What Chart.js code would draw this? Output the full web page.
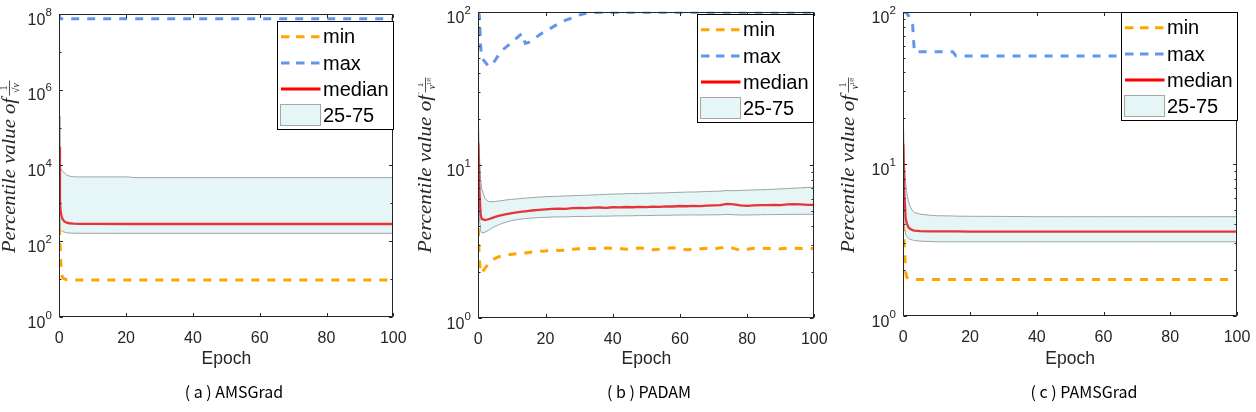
<!DOCTYPE html>
<html><head><meta charset="utf-8">
<script src="https://cdn.jsdelivr.net/npm/chart.js@4.4.1/dist/chart.umd.min.js"></script>
<style>
html,body{margin:0;padding:0;background:#fff;width:1256px;height:412px;overflow:hidden;position:relative}
.pane{position:absolute;top:0;height:412px}
.cap{position:absolute;top:380px;line-height:22px;font-size:16px;font-family:"Noto Sans CJK SC","Noto Sans",sans-serif;color:#000;white-space:nowrap;transform:translateX(-50%)}
</style></head><body>
<div class="pane" style="left:0;width:418px"><canvas id="cA" width="418" height="412"></canvas></div>
<div class="pane" style="left:418px;width:418px"><canvas id="cB" width="418" height="412"></canvas></div>
<div class="pane" style="left:836px;width:420px"><canvas id="cC" width="420" height="412"></canvas></div>
<div class="cap" id="capA" style="left:234px"></div>
<div class="cap" id="capB" style="left:649px"></div>
<div class="cap" id="capC" style="left:1084px"></div>
<script>
// ---------- data ----------
const seriesLabels = ['min', 'max', 'median', '25-75'];
const captions = ['( a ) AMSGrad', '( b ) PADAM', '( c ) PAMSGrad'];
const xLabelText = 'Epoch';
const xTickValues = [0, 20, 40, 60, 80, 100];
const aYTickValues = [1, 1e2, 1e4, 1e6, 1e8];
const aYTickLabels = ['10⁰', '10²', '10⁴', '10⁶', '10⁸'];
const bcYTickValues = [1, 10, 100];
const bcYTickLabels = ['10⁰', '10¹', '10²'];

// (a) AMSGrad
const aEpoch  = [0, 0.2, 0.4, 0.7, 1, 1.5, 2.2, 3, 4.2, 6, 10, 21, 22, 30, 40, 50, 60, 70, 80, 90, 100];
const aMin    = [235, 90, 30, 13, 11, 10, 9.5, 9.4, 9.4, 9.4, 9.4, 9.4, 9.4, 9.4, 9.4, 9.4, 9.4, 9.4, 9.4, 9.4, 9.4];
const aMax    = [1e8, 7.5e7, 7.5e7, 7.5e7, 7.5e7, 7.5e7, 7.5e7, 7.5e7, 7.5e7, 7.5e7, 7.5e7, 7.5e7, 7.5e7, 7.5e7, 7.5e7, 7.5e7, 7.5e7, 7.5e7, 7.5e7, 7.5e7, 7.5e7];
const aMedian = [31000, 1200, 600, 440, 380, 330, 305, 295, 290, 285, 283, 282, 282, 282, 282, 282, 282, 282, 282, 282, 282];
const aQ75    = [200000, 12000, 8500, 7500, 7000, 6300, 5600, 5200, 5000, 4950, 4950, 4950, 4750, 4750, 4750, 4750, 4750, 4750, 4750, 4750, 4750];
const aQ25    = [400, 220, 195, 185, 180, 172, 166, 163, 161, 160, 160, 160, 160, 160, 160, 160, 160, 160, 160, 160, 160];

// (b) PADAM
const bEpoch  = [0, 0.3, 0.7, 1, 2, 3, 4, 5, 6, 7, 8, 10, 12, 13, 14, 15,
  16, 18, 20, 22, 24, 26, 28, 30, 32, 34, 36, 38, 40, 42, 44, 46, 48, 50, 52, 54, 56, 58,
  60, 62, 64, 66, 68, 70, 72, 74, 76, 78, 80, 82, 84, 86, 88, 90, 92, 94, 96, 98, 100];
const bMax    = [100, 95, 60, 50, 47, 44, 45, 48, 52, 56, 58, 63, 69, 72, 62, 63,
  65, 70, 75, 79, 84, 88, 91, 95, 97.5, 98.5, 99, 99, 99, 99, 99, 99, 99, 99, 99, 99, 99, 99,
  99, 99, 99, 99, 99, 99, 99, 99, 99, 99, 99, 99, 99, 99, 99, 99, 99, 99, 99, 99, 99];
const bMin    = [3.84, 2.4, 1.95, 1.97, 2.1, 2.25, 2.36, 2.44, 2.5, 2.53, 2.56, 2.6, 2.63, 2.64, 2.65, 2.67,
  2.69, 2.71, 2.73, 2.77, 2.75, 2.76, 2.8, 2.82, 2.84, 2.83, 2.82, 2.85, 2.84, 2.84, 2.8, 2.83, 2.85, 2.84, 2.78, 2.8, 2.84, 2.86,
  2.83, 2.78, 2.8, 2.82, 2.83, 2.81, 2.86, 2.9, 2.84, 2.76, 2.8, 2.84, 2.85, 2.83, 2.84, 2.82, 2.85, 2.84, 2.83, 2.86, 2.82];
const bMedian = [13.8, 7.0, 4.7, 4.42, 4.35, 4.4, 4.48, 4.56, 4.63, 4.69, 4.74, 4.83, 4.9, 4.93, 4.96, 4.99,
  5.02, 5.07, 5.11, 5.14, 5.17, 5.15, 5.2, 5.22, 5.2, 5.24, 5.25, 5.22, 5.27, 5.26, 5.29, 5.27, 5.3, 5.28, 5.32, 5.3, 5.34, 5.33,
  5.37, 5.35, 5.38, 5.36, 5.4, 5.42, 5.45, 5.55, 5.5, 5.42, 5.38, 5.42, 5.45, 5.44, 5.47, 5.45, 5.5, 5.53, 5.5, 5.47, 5.46];
const bQ75    = [21, 12, 8, 7, 6.0, 5.75, 5.72, 5.75, 5.79, 5.83, 5.87, 5.94, 5.99, 6.02, 6.04, 6.07,
  6.09, 6.14, 6.18, 6.2, 6.22, 6.25, 6.27, 6.3, 6.31, 6.34, 6.37, 6.4, 6.43, 6.44, 6.46, 6.48, 6.49, 6.5, 6.52, 6.54, 6.55, 6.58,
  6.6, 6.62, 6.63, 6.65, 6.68, 6.7, 6.72, 6.78, 6.76, 6.78, 6.82, 6.84, 6.86, 6.88, 6.92, 6.95, 6.98, 7.02, 7.06, 7.1, 7.12];
const bQ25    = [9, 4.6, 3.7, 3.58, 3.62, 3.72, 3.84, 3.95, 4.04, 4.12, 4.19, 4.32, 4.39, 4.42, 4.44, 4.46,
  4.48, 4.51, 4.53, 4.55, 4.56, 4.56, 4.58, 4.59, 4.59, 4.6, 4.61, 4.61, 4.62, 4.63, 4.63, 4.64, 4.65, 4.65, 4.66, 4.67, 4.67, 4.68,
  4.69, 4.69, 4.7, 4.69, 4.7, 4.7, 4.71, 4.73, 4.71, 4.69, 4.69, 4.7, 4.71, 4.72, 4.72, 4.73, 4.73, 4.74, 4.74, 4.74, 4.74];

// (c) PAMSGrad
const cEpoch  = [0, 0.3, 0.7, 1, 1.5, 2, 2.8, 3.3, 5, 8, 10, 14.8, 15.8, 20, 30, 40, 50, 60, 70, 80, 90, 100];
const cMax    = [100, 100, 99, 98, 95, 90, 82, 54.8, 54.8, 54.8, 54.8, 54.8, 51.3, 51.3, 51.3, 51.3, 51.3, 51.3, 51.3, 51.3, 51.3, 51.3];
const cMin    = [4.07, 2.9, 1.95, 1.8, 1.76, 1.75, 1.74, 1.74, 1.74, 1.74, 1.74, 1.74, 1.74, 1.74, 1.74, 1.74, 1.74, 1.74, 1.74, 1.74, 1.74, 1.74];
const cMedian = [13.5, 6.5, 4.4, 4.1, 3.85, 3.75, 3.67, 3.65, 3.62, 3.6, 3.6, 3.6, 3.6, 3.59, 3.59, 3.59, 3.59, 3.59, 3.59, 3.59, 3.59, 3.59];
const cQ75    = [20.5, 11, 7.5, 6.6, 5.7, 5.3, 4.9, 4.8, 4.68, 4.6, 4.57, 4.55, 4.54, 4.53, 4.52, 4.5, 4.5, 4.5, 4.5, 4.5, 4.5, 4.5];
const cQ25    = [5.5, 3.9, 3.45, 3.35, 3.25, 3.2, 3.16, 3.14, 3.11, 3.09, 3.08, 3.08, 3.08, 3.08, 3.08, 3.08, 3.08, 3.08, 3.08, 3.08, 3.08, 3.08];

// ---------- styles ----------
const SANS = "'Liberation Sans', Arial, sans-serif";
const AX = '#262626';
const C_MIN = '#FFA500', C_MAX = '#6495ED', C_MED = '#E5353A', C_MED_LEG = '#FF0000';
const C_BAND = '#E6F5F5', C_BAND_LINE = '#9EA6A6', C_BAND_LEG = '#A6A6A6';
const SUPMAP = {'⁰':'0','¹':'1','²':'2','³':'3','⁴':'4','⁵':'5','⁶':'6','⁷':'7','⁸':'8','⁹':'9'};

document.getElementById('capA').textContent = captions[0];
document.getElementById('capB').textContent = captions[1];
document.getElementById('capC').textContent = captions[2];

const pts = (xs, ys) => xs.map((x, i) => ({x: x, y: ys[i]}));

const matlabAxes = {
  id: 'matlabAxes',
  afterDatasetsDraw(chart, args, o) {
    const ctx = chart.ctx, ca = chart.chartArea, xs = chart.scales.x, ys = chart.scales.y;
    const L = Math.round(ca.left) + 0.5, R = Math.round(ca.right) - 0.5;
    const T = Math.round(ca.top) + 0.5, B = Math.round(ca.bottom) - 0.5;
    ctx.save();
    ctx.strokeStyle = AX; ctx.lineWidth = 1;
    ctx.beginPath();
    xs.ticks.forEach(t => {
      const p = Math.round(xs.getPixelForValue(t.value)) + 0.5;
      ctx.moveTo(p, B); ctx.lineTo(p, B - 3.5);
      ctx.moveTo(p, T); ctx.lineTo(p, T + 3.5);
    });
    ys.ticks.forEach(t => {
      const p = Math.round(ys.getPixelForValue(t.value)) + 0.5;
      ctx.moveTo(L, p); ctx.lineTo(L + 3.5, p);
      ctx.moveTo(R, p); ctx.lineTo(R - 3.5, p);
    });
    (o.minor || []).forEach(v => {
      const p = Math.round(ys.getPixelForValue(v)) + 0.5;
      ctx.moveTo(L, p); ctx.lineTo(L + 2, p);
      ctx.moveTo(R, p); ctx.lineTo(R - 2, p);
    });
    ctx.stroke();
    ctx.strokeRect(L, T, R - L, B - T);
    // y tick labels with real superscripts
    ctx.fillStyle = AX;
    ctx.textBaseline = 'alphabetic';
    ys.ticks.forEach((t, i) => {
      const lab = o.labels[i];
      const base = lab.replace(/[⁰¹²³⁴⁵⁶⁷⁸⁹]/g, '');
      const sup = lab.split('').filter(c => SUPMAP[c]).map(c => SUPMAP[c]).join('');
      const py = ys.getPixelForValue(t.value);
      ctx.font = '11.5px ' + SANS;
      const sw = ctx.measureText(sup).width;
      ctx.textAlign = 'right';
      ctx.fillText(sup, ca.left - 7.5, py + 1.8);
      ctx.font = '16px ' + SANS;
      ctx.fillText(base, ca.left - 7.5 - sw, py + 10.8);
    });
    ctx.restore();
  }
};

const boxLegend = {
  id: 'boxLegend',
  afterDraw(chart, args, o) {
    const ctx = chart.ctx, ca = chart.chartArea;
    const w = 116, h = 108;
    const x = Math.round(ca.right - o.rightInset - w), y = Math.round(ca.top + o.topInset);
    ctx.save();
    ctx.fillStyle = '#fff'; ctx.fillRect(x, y, w, h);
    ctx.strokeStyle = '#000'; ctx.lineWidth = 1; ctx.strokeRect(x + 0.5, y + 0.5, w, h);
    const rows = [15.7, 42, 68, 94];
    const cols = [C_MIN, C_MAX, C_MED_LEG];
    ctx.font = '20px ' + SANS; ctx.textBaseline = 'middle'; ctx.fillStyle = '#000';
    seriesLabels.forEach((lab, i) => {
      const ry = y + rows[i];
      if (i < 3) {
        ctx.beginPath();
        ctx.setLineDash(i < 2 ? [8.5, 6.5] : []);
        ctx.strokeStyle = cols[i]; ctx.lineWidth = 3;
        ctx.moveTo(x + 4, ry); ctx.lineTo(x + 43.5, ry); ctx.stroke();
        ctx.setLineDash([]);
      } else {
        ctx.fillStyle = C_BAND; ctx.fillRect(x + 3.5, y + 83, 40, 21);
        ctx.strokeStyle = C_BAND_LEG; ctx.lineWidth = 1; ctx.strokeRect(x + 3.5, y + 83.5, 40, 21);
      }
      ctx.fillStyle = '#000';
      ctx.fillText(lab, x + 46, ry + 1);
    });
    ctx.restore();
  }
};

const yTitle = {
  id: 'yTitle',
  afterDraw(chart, args, o) {
    const ctx = chart.ctx;
    ctx.save();
    ctx.translate(o.x, o.y0);
    ctx.rotate(-Math.PI / 2);
    ctx.fillStyle = AX;
    ctx.font = 'italic 19px "Liberation Serif", "DejaVu Serif", serif';
    ctx.textBaseline = 'alphabetic';
    const txt = 'Percentile value of';
    const w = ctx.measureText(txt).width;
    ctx.save(); ctx.scale(o.len / w, 1); ctx.fillText(txt, 0, 0); ctx.restore();
    const fx = o.len + 10;
    ctx.textAlign = 'center';
    ctx.font = '10px "Liberation Serif", serif';
    ctx.fillText('1', fx, -8);
    ctx.strokeStyle = AX; ctx.lineWidth = 0.8;
    ctx.beginPath(); ctx.moveTo(fx - 7.5, -5.5); ctx.lineTo(fx + 7.5, -5.5); ctx.stroke();
    ctx.font = 'italic 10px "Liberation Serif", serif';
    if (o.root) {
      ctx.fillText('√v', fx, 4);
    } else {
      ctx.fillText('v', fx - 2, 4);
      ctx.font = '5.5px "Liberation Serif", serif';
      ctx.fillText('1/8', fx + 3.5, -0.5);
    }
    ctx.restore();
  }
};

function build(id, P) {
  const W = P.W;
  return new Chart(document.getElementById(id), {
    type: 'line',
    data: {
      datasets: [
        {label: 'median', data: pts(P.ep, P.med), borderColor: C_MED, borderWidth: 2.3, pointRadius: 0, fill: false, order: 0},
        {label: 'min', data: pts(P.ep, P.min), borderColor: C_MIN, borderWidth: 3, borderDash: [8, 8], pointRadius: 0, fill: false, order: 1},
        {label: 'max', data: pts(P.ep, P.max), borderColor: C_MAX, borderWidth: 3, borderDash: [8, 8], pointRadius: 0, fill: false, order: 2},
        {label: '75', data: pts(P.ep, P.q75), borderColor: C_BAND_LINE, borderWidth: 1, pointRadius: 0, fill: '+1', backgroundColor: C_BAND, order: 3},
        {label: '25', data: pts(P.ep, P.q25), borderColor: C_BAND_LINE, borderWidth: 1, pointRadius: 0, fill: false, order: 4}
      ]
    },
    options: {
      responsive: false, animation: false, devicePixelRatio: 1,
      layout: {padding: {left: 0, right: W - P.R, top: P.T, bottom: 0}},
      plugins: {
        legend: {display: false}, tooltip: {enabled: false},
        filler: {drawTime: 'beforeDatasetsDraw'},
        matlabAxes: {minor: P.minor, labels: P.yLabels},
        boxLegend: {rightInset: P.legR, topInset: P.legT},
        yTitle: {x: P.tx, y0: 253, len: P.tlen, root: P.root}
      },
      scales: {
        x: {
          type: 'linear', min: 0, max: 100,
          afterBuildTicks: s => { s.ticks = xTickValues.map(v => ({value: v})); },
          ticks: {padding: 4, color: AX, font: {family: SANS, size: 16}, maxRotation: 0, autoSkip: false},
          grid: {display: false}, border: {display: false},
          title: {display: true, text: xLabelText, color: AX, font: {family: SANS, size: 17.5}, padding: {top: 0, bottom: 42.8}},
          afterFit: s => { s.height = 412 - P.B; }
        },
        y: {
          type: 'logarithmic', min: P.yTicks[0], max: P.yTicks[P.yTicks.length - 1],
          afterBuildTicks: s => { s.ticks = P.yTicks.map(v => ({value: v})); },
          ticks: {display: false, padding: 6, color: AX, font: {family: SANS, size: 16}, autoSkip: false,
                  callback: (v, i) => P.yLabels[i]},
          grid: {display: false}, border: {display: false},
          afterFit: s => { s.width = P.L; }
        }
      }
    },
    plugins: [matlabAxes, boxLegend, yTitle]
  });
}

const minorBC = [];
[1, 10].forEach(d => { for (let k = 2; k <= 9; k++) minorBC.push(k * d); });

build('cA', {W: 418, L: 59.3, R: 393.3, T: 14, B: 316.7, ep: aEpoch, min: aMin, max: aMax, med: aMedian, q75: aQ75, q25: aQ25,
  yTicks: aYTickValues, yLabels: aYTickLabels, minor: [10, 1e3, 1e5, 1e7], legR: 0, legT: 7, tx: 15, tlen: 155, root: true});
build('cB', {W: 418, L: 60.3, R: 396.3, T: 11.7, B: 317.7, ep: bEpoch, min: bMin, max: bMax, med: bMedian, q75: bQ75, q25: bQ25,
  yTicks: bcYTickValues, yLabels: bcYTickLabels, minor: minorBC, legR: 1.5, legT: 2.6, tx: 13, tlen: 158, root: false});
build('cC', {W: 420, L: 67.3, R: 401, T: 12, B: 316, ep: cEpoch, min: cMin, max: cMax, med: cMedian, q75: cQ75, q25: cQ25,
  yTicks: bcYTickValues, yLabels: bcYTickLabels, minor: minorBC, legR: 0, legT: 0.3, tx: 18, tlen: 158, root: false});
</script>
</body></html>
